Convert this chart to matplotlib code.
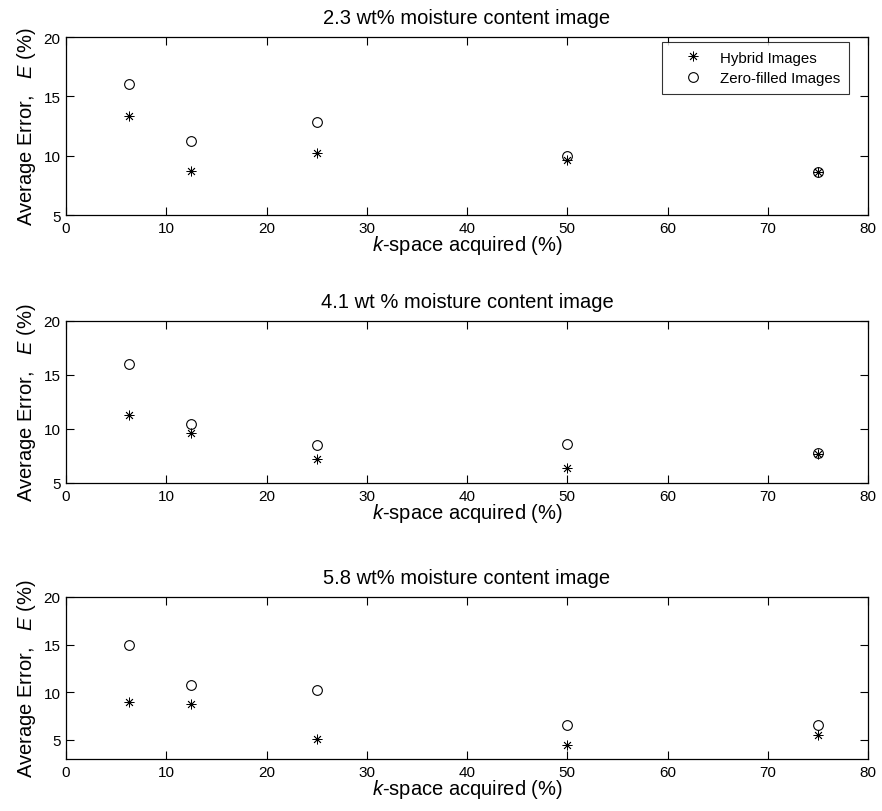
import matplotlib
matplotlib.use("Agg")
import matplotlib.pyplot as plt

# data
k_space = [6.25, 12.5, 25, 50, 75]

titles = ["2.3 wt% moisture content image",
          "4.1 wt % moisture content image",
          "5.8 wt% moisture content image"]

hybrid_23 = [13.35, 8.75, 10.2, 9.65, 8.65]
zero_23 = [16.0, 11.2, 12.8, 9.95, 8.65]

hybrid_41 = [11.3, 9.65, 7.25, 6.4, 7.65]
zero_41 = [16.05, 10.45, 8.55, 8.65, 7.8]

hybrid_58 = [9.0, 8.8, 5.05, 4.45, 5.5]
zero_58 = [14.95, 10.75, 10.25, 6.6, 6.6]

y_bottoms = [5, 5, 3]
yticks = [5, 10, 15, 20]
xticks = [0, 10, 20, 30, 40, 50, 60, 70, 80]

plt.rcParams['font.family'] = ['Liberation Sans', 'DejaVu Sans']
plt.rcParams['mathtext.fontset'] = 'custom'
plt.rcParams['mathtext.rm'] = 'Liberation Sans'
plt.rcParams['mathtext.it'] = 'Liberation Sans:italic'

W, H = 882, 812
fig = plt.figure(figsize=(W / 100, H / 100), dpi=100)

# axes boxes in pixels: (left, top, right, bottom)
boxes = [(66, 38, 868, 216), (66, 322, 868, 484), (66, 598, 868, 760)]

series = [(hybrid_23, zero_23), (hybrid_41, zero_41), (hybrid_58, zero_58)]

asterisk = (8, 2, 0)

for i, (box, (hyb, zer)) in enumerate(zip(boxes, series)):
    l, t, r, b = box
    ax = fig.add_axes([l / W, (H - b) / H, (r - l) / W, (b - t) / H])
    ax.plot(k_space, hyb, linestyle='none', marker=asterisk, markersize=7,
            color='black', markeredgewidth=0.6, label='Hybrid Images')
    ax.plot(k_space, zer, linestyle='none', marker='o', markersize=7,
            markerfacecolor='none', markeredgecolor='black',
            markeredgewidth=0.8, label='Zero-filled Images')
    ax.set_xlim(0, 80)
    ax.set_ylim(y_bottoms[i], 20)
    ax.set_xticks(xticks)
    ax.set_yticks(yticks)
    ax.tick_params(direction='in', top=True, right=True, length=6,
                   width=0.8, labelsize=11, pad=4)
    for sp in ax.spines.values():
        sp.set_linewidth(0.9)
    ax.set_title(titles[i], fontsize=14.5, pad=10)
    ax.set_xlabel(r'$\it{k}$-space acquired (%)', fontsize=14.5, labelpad=-1)
    ax.set_ylabel(r'Average Error,   $\it{E}$ (%)', fontsize=14.5, labelpad=4)
    if i == 0:
        leg = ax.legend(loc='upper right', fontsize=10.8, frameon=True,
                        fancybox=False, edgecolor='black', borderpad=0.55,
                        handlelength=3.1, handletextpad=0.25,
                        labelspacing=0.45, borderaxespad=0,
                        bbox_to_anchor=(0.9763, 0.970))
        leg.get_frame().set_linewidth(0.8)

fig.savefig("out.png", dpi=100)
